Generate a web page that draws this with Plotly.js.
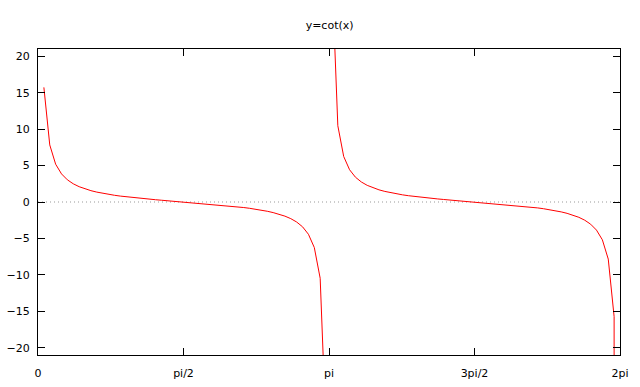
<!DOCTYPE html>
<html>
<head>
<meta charset="utf-8">
<script src="https://cdn.plot.ly/plotly-3.0.1.min.js"></script>
<style>html,body{margin:0;padding:0;background:#fff;}#chart{width:640px;height:387px;}</style>
</head>
<body>
<div id="chart"></div>
<script>
const xBranch1 = [0.0635,0.1269,0.1904,0.2539,0.3173,0.3808,0.4443,0.5077,0.5712,0.6347,
  0.6981,0.7616,0.8251,0.8885,0.9520,1.0155,1.0789,1.1424,1.2059,1.2693,
  1.3328,1.3963,1.4597,1.5232,1.5867,1.6501,1.7136,1.7771,1.8405,1.9040,
  1.9675,2.0309,2.0944,2.1579,2.2213,2.2848,2.3483,2.4117,2.4752,2.5387,
  2.6021,2.6656,2.7291,2.7925,2.8560,2.9195,2.9829,3.0464,3.1099];
const yBranch1 = [15.73518,7.83581,5.18849,3.85410,3.04477,2.49788,2.10083,1.79732,1.55603,1.35817,
  1.19175,1.04877,0.92366,0.81241,0.71210,0.62047,0.53579,0.45668,0.38204,0.31094,
  0.24260,0.17633,0.11153,0.04764,-0.01587,-0.07950,-0.14378,-0.20924,-0.27647,-0.34610,
  -0.41887,-0.49561,-0.57735,-0.66531,-0.76097,-0.86650,-0.98426,-1.11773,-1.27160,-1.45254,
  -1.67028,-1.93973,-2.28496,-2.74748,-3.40569,-4.42752,-6.24956,-10.47247,-31.50210];
const xBranch2 = [3.1733,3.2368,3.3003,3.3637,3.4272,3.4907,3.5541,3.6176,3.6811,3.7445,
  3.8080,3.8715,3.9349,3.9984,4.0619,4.1253,4.1888,4.2523,4.3157,4.3792,
  4.4427,4.5061,4.5696,4.6331,4.6965,4.7600,4.8235,4.8869,4.9504,5.0139,
  5.0773,5.1408,5.2043,5.2677,5.3312,5.3947,5.4581,5.5216,5.5851,5.6485,
  5.7120,5.7755,5.8389,5.9024,5.9659,6.0293,6.0928,6.1563,6.2197,6.2832];
const yBranch2 = [31.50210,10.47247,6.24956,4.42752,3.40569,2.74748,2.28496,1.93973,1.67028,1.45254,
  1.27160,1.11773,0.98426,0.86650,0.76097,0.66531,0.57735,0.49561,0.41887,0.34610,
  0.27647,0.20924,0.14378,0.07950,0.01587,-0.04764,-0.11153,-0.17633,-0.24260,-0.31094,
  -0.38204,-0.45668,-0.53579,-0.62047,-0.71210,-0.81241,-0.92366,-1.04877,-1.19175,-1.35817,
  -1.55603,-1.79732,-2.10083,-2.49788,-3.04477,-3.85410,-5.18849,-7.83581,-15.73518,-10000];
const xTickVals = [0, 1.5708, 3.1416, 4.7124, 6.2832];
const xTickText = ['0', 'pi/2', 'pi', '3pi/2', '2pi'];
const yTickVals = [-20, -15, -10, -5, 0, 5, 10, 15, 20];
const titleText = 'y=cot(x)';

const font = {family: 'DejaVu Sans, Verdana, sans-serif', size: 11, color: '#000'};
const lineStyle = {color: '#ff0000', width: 1};
const traces = [
  {x: xBranch1, y: yBranch1, type: 'scatter', mode: 'lines', line: lineStyle, hoverinfo: 'skip'},
  {x: xBranch2, y: yBranch2, type: 'scatter', mode: 'lines', line: lineStyle, hoverinfo: 'skip'}
];
const axisCommon = {
  showline: true, linecolor: '#000', linewidth: 1, mirror: 'ticks',
  ticks: 'inside', ticklen: 7, tickcolor: '#000', tickwidth: 1,
  showgrid: false, zeroline: false, tickfont: font
};
const layout = {
  width: 640, height: 387,
  margin: {l: 38, r: 20, t: 49, b: 32, pad: 0},
  paper_bgcolor: '#fff', plot_bgcolor: '#fff',
  showlegend: false,
  font: font,
  title: {text: titleText, font: font, x: 0.515, xanchor: 'center', y: 1 - 25/387, yanchor: 'middle', yref: 'container'},
  xaxis: Object.assign({}, axisCommon, {range: [0, 6.2832], tickmode: 'array', tickvals: xTickVals, ticktext: xTickText, ticklabelstandoff: 8}),
  yaxis: Object.assign({}, axisCommon, {range: [-21, 21], tickmode: 'array', tickvals: yTickVals, ticklabelstandoff: 5}),
  shapes: [{type: 'line', xref: 'paper', x0: 0, x1: 1, yref: 'y', y0: 0, y1: 0,
            line: {color: '#999', width: 1, dash: '1px,3px'}, layer: 'below'}]
};
Plotly.newPlot('chart', traces, layout, {staticPlot: true, displayModeBar: false});
</script>
</body>
</html>
